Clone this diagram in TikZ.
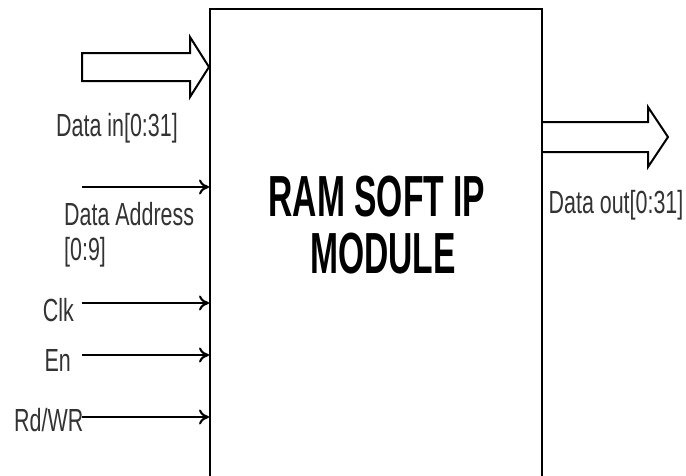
\documentclass[tikz,border=0pt]{standalone}
\usepackage{fontspec}
\setmainfont{Liberation Sans}
\newfontfamily\narrowfont[FakeStretch=0.67]{Liberation Sans}
\newfontfamily\titlefont[FakeStretch=0.58]{Liberation Sans}
\usetikzlibrary{arrows.meta}
\begin{document}
\begin{tikzpicture}[x=1pt,y=-1pt,
  sig/.style={line width=2.5pt,-{To[length=10pt,width=15pt,line width=2pt]}},
  lbl/.style={font=\narrowfont\fontsize{32}{36}\selectfont, text=black!80, inner sep=0pt},
  title/.style={font=\titlefont\bfseries\fontsize{58}{62}\selectfont, inner sep=0pt},
  fat/.style={line width=2pt, line join=miter}]
\clip (0,0) rectangle (686,475);
\fill[white] (0,0) rectangle (686,475);
% Data in
\draw[fat] (82,53) -- (190,53) -- (190,37) -- (209,67) -- (190,97) -- (190,81) -- (82,81) -- cycle;
% Data out
\draw[fat] (541,122) -- (648,122) -- (648,107) -- (668,137) -- (648,167) -- (648,152) -- (541,152);
\node[draw, line width=2pt, minimum width=332pt, minimum height=490pt, anchor=north west, inner sep=0pt] (ram) at (209,8) {};
\node[title] (t1) at (377,197) {RAM SOFT IP};
\node[title] (t2) at (383,254) {MODULE};
\node[lbl] (din) at (117,128) {Data in[0:31]};
\node[lbl] (dout) at (616,205) {Data out[0:31]};
% Address
\coordinate (a0) at (82,187);
\draw[sig] (a0) -- (a0 -| ram.west);
\node[lbl, anchor=west] (addr) at (64,214) {Data Address};
\node[lbl, anchor=west] (addr2) at (64,252) {[0:9]};
% Clk
\coordinate (c0) at (82,303);
\draw[sig] (c0) -- (c0 -| ram.west);
\node[lbl, anchor=east] (clk) at (74,310) {Clk};
% En
\coordinate (e0) at (82,355);
\draw[sig] (e0) -- (e0 -| ram.west);
\node[lbl, anchor=east] (en) at (71,360) {En};
% Rd/WR
\node[lbl, anchor=west] (rw) at (14,420) {Rd/WR};
\coordinate (r0) at (82,417);
\draw[sig] (r0) -- (r0 -| ram.west);
\end{tikzpicture}
\end{document}
